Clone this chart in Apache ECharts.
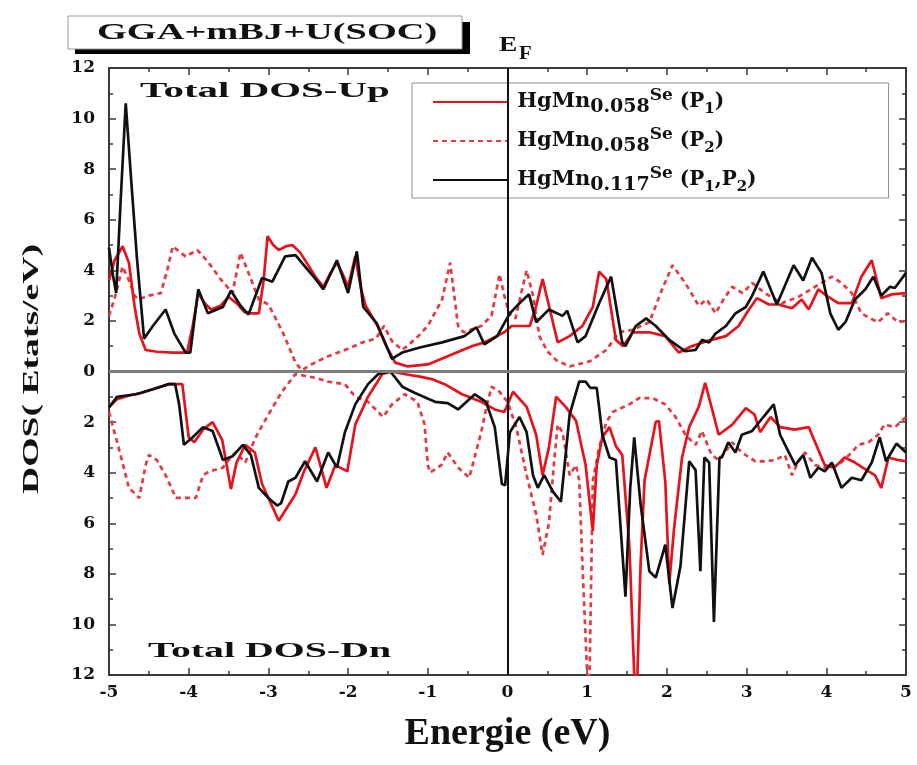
<!DOCTYPE html>
<html>
<head>
<meta charset="utf-8">
<title>Total DOS HgMnSe</title>
<script src="https://cdn.jsdelivr.net/npm/echarts@6/dist/echarts.min.js"></script>
<style>
  html, body { margin: 0; padding: 0; background: #ffffff; }
  #chart { width: 917px; height: 765px; }
</style>
</head>
<body>
<div id="chart"></div>
<script>
// Total density of states, spin up (positive) and spin down (plotted downward).
// Each list holds [energy (eV), DOS (states/eV)] pairs.

const seriesNames = ['HgMn0.058Se (P1)', 'HgMn0.058Se (P2)', 'HgMn0.117Se (P1,P2)'];

const upP1 = [
  [-5.0, 3.6], [-4.93, 4.4], [-4.83, 4.95], [-4.75, 4.3], [-4.68, 2.6], [-4.62, 1.5], [-4.54, 0.85],
  [-4.4, 0.78], [-4.2, 0.75], [-4.02, 0.75], [-3.95, 1.8], [-3.88, 3.1], [-3.8, 2.7], [-3.72, 2.45],
  [-3.6, 2.6], [-3.5, 2.95], [-3.4, 2.7], [-3.3, 2.35], [-3.2, 2.3], [-3.12, 2.3], [-3.06, 3.6],
  [-3.01, 5.35], [-2.94, 5.0], [-2.87, 4.8], [-2.78, 4.95], [-2.7, 5.0], [-2.6, 4.7], [-2.5, 4.2],
  [-2.4, 3.7], [-2.31, 3.35], [-2.22, 3.9], [-2.14, 4.3], [-2.06, 3.8], [-2.0, 3.35], [-1.91, 4.55],
  [-1.84, 3.3], [-1.78, 2.6], [-1.63, 1.8], [-1.52, 1.0], [-1.41, 0.35], [-1.25, 0.2], [-1.0, 0.28],
  [-0.75, 0.6], [-0.45, 1.0], [-0.29, 1.15], [-0.04, 1.55], [0.05, 1.8], [0.15, 1.8], [0.28, 1.8],
  [0.36, 2.6], [0.44, 3.65], [0.52, 2.6], [0.63, 1.15], [0.78, 1.4], [0.94, 1.8], [1.07, 2.55],
  [1.15, 3.95], [1.24, 3.65], [1.36, 1.25], [1.45, 1.0], [1.57, 1.55], [1.78, 1.55], [1.98, 1.4],
  [2.15, 0.75], [2.31, 1.0], [2.5, 1.2], [2.74, 1.4], [2.9, 1.8], [3.03, 2.45], [3.13, 2.9],
  [3.28, 2.65], [3.4, 2.65], [3.57, 2.5], [3.69, 2.85], [3.78, 2.45], [3.9, 3.25], [4.0, 3.0],
  [4.15, 2.7], [4.32, 2.7], [4.44, 3.75], [4.57, 4.4], [4.69, 2.9], [4.82, 3.05], [5.0, 3.1]
];

const upP2 = [
  [-5.0, 2.2], [-4.92, 3.0], [-4.83, 4.15], [-4.75, 3.6], [-4.68, 3.0], [-4.63, 2.85], [-4.5, 3.0],
  [-4.35, 3.1], [-4.27, 4.0], [-4.2, 4.95], [-4.04, 4.55], [-3.89, 4.8], [-3.75, 4.3], [-3.6, 3.65],
  [-3.45, 3.1], [-3.35, 4.7], [-3.25, 3.9], [-3.12, 2.85], [-3.0, 2.65], [-2.82, 1.55], [-2.66, 0.35],
  [-2.58, 0.05], [-2.45, 0.3], [-2.25, 0.6], [-2.0, 0.9], [-1.82, 1.15], [-1.65, 1.3], [-1.55, 1.8],
  [-1.45, 1.2], [-1.32, 0.85], [-1.15, 1.3], [-1.0, 1.8], [-0.82, 2.85], [-0.72, 4.3], [-0.62, 1.8],
  [-0.55, 1.55], [-0.33, 1.8], [-0.2, 2.2], [-0.1, 3.85], [-0.04, 3.0], [0.02, 2.3], [0.1, 2.1],
  [0.18, 3.2], [0.24, 4.0], [0.32, 3.0], [0.4, 1.4], [0.5, 0.8], [0.61, 0.45], [0.78, 0.2],
  [1.03, 0.4], [1.24, 0.85], [1.4, 1.55], [1.57, 1.65], [1.78, 1.95], [1.94, 3.25], [2.07, 4.2],
  [2.23, 3.5], [2.4, 2.6], [2.5, 2.85], [2.61, 2.3], [2.72, 2.9], [2.82, 3.35], [2.95, 3.1],
  [3.07, 3.5], [3.23, 3.1], [3.44, 2.7], [3.65, 2.95], [3.86, 3.35], [4.07, 3.75], [4.19, 3.5],
  [4.32, 3.1], [4.44, 2.3], [4.55, 2.1], [4.65, 1.95], [4.77, 2.3], [4.9, 1.95], [5.0, 2.0]
];

const upP12 = [
  [-5.0, 4.9], [-4.95, 3.8], [-4.91, 3.1], [-4.85, 7.0], [-4.79, 10.6], [-4.72, 7.5], [-4.65, 4.5],
  [-4.56, 1.3], [-4.45, 1.8], [-4.29, 2.45], [-4.18, 1.5], [-4.04, 0.75], [-3.98, 0.75], [-3.88, 3.25],
  [-3.76, 2.3], [-3.57, 2.55], [-3.47, 3.2], [-3.35, 2.6], [-3.25, 2.25], [-3.08, 3.7], [-2.95, 3.55],
  [-2.79, 4.55], [-2.66, 4.6], [-2.54, 4.15], [-2.42, 3.7], [-2.31, 3.25], [-2.14, 4.4], [-2.0, 3.1],
  [-1.89, 4.75], [-1.81, 2.55], [-1.64, 1.9], [-1.45, 0.5], [-1.4, 0.6], [-1.32, 0.75], [-1.1, 0.95],
  [-0.82, 1.15], [-0.54, 1.4], [-0.39, 1.75], [-0.29, 1.07], [-0.13, 1.4], [-0.05, 1.85], [0.03, 2.3],
  [0.15, 2.7], [0.27, 3.05], [0.36, 1.95], [0.52, 2.45], [0.69, 2.2], [0.75, 2.4], [0.88, 1.15],
  [0.98, 1.4], [1.15, 2.7], [1.3, 3.75], [1.44, 1.15], [1.48, 1.0], [1.61, 1.8], [1.74, 2.1],
  [1.86, 1.8], [2.03, 1.25], [2.23, 0.8], [2.36, 0.85], [2.44, 1.25], [2.53, 1.15], [2.61, 1.5],
  [2.74, 1.8], [2.86, 2.3], [2.99, 2.55], [3.07, 3.0], [3.21, 3.95], [3.38, 2.65], [3.59, 4.2],
  [3.71, 3.6], [3.82, 4.5], [3.94, 3.9], [4.05, 2.3], [4.15, 1.65], [4.24, 1.95], [4.36, 2.85],
  [4.49, 3.25], [4.59, 3.75], [4.69, 3.0], [4.8, 3.35], [4.86, 3.3], [5.0, 3.9]
];

const dnP1 = [
  [-5.0, 1.4], [-4.9, 1.1], [-4.75, 0.95], [-4.6, 0.85], [-4.45, 0.7], [-4.25, 0.5], [-4.08, 0.5],
  [-4.0, 2.6], [-3.93, 2.8], [-3.82, 2.3], [-3.7, 2.0], [-3.58, 2.7], [-3.47, 4.65], [-3.4, 3.6],
  [-3.29, 2.9], [-3.17, 3.2], [-3.08, 4.45], [-2.87, 5.9], [-2.66, 4.85], [-2.56, 4.0], [-2.41, 3.0],
  [-2.27, 4.6], [-2.16, 3.7], [-2.01, 3.95], [-1.91, 2.1], [-1.75, 1.0], [-1.57, 0.1], [-1.45, 0.0],
  [-1.3, 0.1], [-1.1, 0.2], [-0.95, 0.3], [-0.79, 0.5], [-0.57, 0.9], [-0.33, 1.2], [-0.16, 1.5],
  [-0.04, 1.6], [0.07, 0.8], [0.24, 1.4], [0.36, 2.5], [0.44, 4.1], [0.52, 3.0], [0.61, 1.0],
  [0.73, 1.4], [0.86, 1.95], [0.98, 3.7], [1.07, 6.3], [1.12, 3.7], [1.19, 2.6], [1.28, 2.2],
  [1.36, 2.95], [1.44, 3.3], [1.53, 6.95], [1.59, 12], [1.63, 12], [1.67, 7.6], [1.72, 4.3],
  [1.86, 2.0], [1.9, 1.95], [1.98, 4.35], [2.03, 8.4], [2.09, 6.2], [2.19, 3.4], [2.28, 2.2],
  [2.4, 1.4], [2.48, 0.45], [2.65, 2.5], [2.82, 2.1], [2.99, 1.45], [3.1, 1.7], [3.17, 2.4],
  [3.3, 1.8], [3.42, 2.2], [3.6, 2.3], [3.78, 2.2], [3.98, 3.7], [4.1, 3.8], [4.23, 3.4],
  [4.36, 3.6], [4.53, 3.95], [4.61, 4.1], [4.69, 4.6], [4.78, 3.4], [4.9, 3.5], [5.0, 3.55]
];

const dnP2 = [
  [-5.0, 1.6], [-4.88, 3.0], [-4.75, 4.6], [-4.62, 5.0], [-4.54, 3.7], [-4.5, 3.3], [-4.4, 3.5],
  [-4.29, 4.1], [-4.16, 5.0], [-4.04, 5.0], [-3.91, 5.0], [-3.82, 4.1], [-3.74, 3.95], [-3.57, 3.8],
  [-3.5, 3.5], [-3.41, 3.2], [-3.29, 3.6], [-3.16, 2.6], [-3.0, 1.7], [-2.83, 0.8], [-2.66, 0.1],
  [-2.41, 0.25], [-2.25, 0.4], [-2.04, 0.5], [-1.91, 1.0], [-1.75, 1.2], [-1.56, 1.8], [-1.45, 1.3],
  [-1.29, 0.9], [-1.13, 1.2], [-1.04, 2.1], [-1.0, 3.7], [-0.97, 4.0], [-0.83, 3.7], [-0.75, 3.2],
  [-0.62, 3.8], [-0.48, 4.2], [-0.43, 3.6], [-0.33, 2.4], [-0.27, 1.5], [-0.2, 0.6], [-0.1, 0.8],
  [0.0, 1.2], [0.11, 2.2], [0.24, 4.1], [0.36, 5.65], [0.44, 7.25], [0.52, 6.0], [0.59, 3.4],
  [0.63, 2.1], [0.69, 2.4], [0.78, 4.1], [0.86, 3.7], [0.9, 4.3], [0.94, 7.6], [1.0, 12],
  [1.03, 12], [1.07, 4.35], [1.15, 3.0], [1.24, 2.0], [1.32, 1.6], [1.53, 1.3], [1.65, 1.05],
  [1.82, 1.05], [1.98, 1.3], [2.11, 1.8], [2.23, 2.5], [2.36, 2.9], [2.44, 2.35], [2.56, 3.3],
  [2.65, 3.5], [2.82, 2.8], [2.94, 3.2], [3.11, 3.55], [3.23, 3.55], [3.36, 3.5], [3.48, 3.3],
  [3.57, 4.1], [3.65, 3.55], [3.73, 3.2], [3.86, 3.7], [3.98, 3.8], [4.15, 3.7], [4.32, 3.2],
  [4.4, 2.9], [4.53, 2.8], [4.65, 2.5], [4.73, 2.1], [4.86, 2.2], [5.0, 1.8]
];

const dnP12 = [
  [-5.0, 1.42], [-4.9, 1.0], [-4.66, 0.9], [-4.45, 0.7], [-4.25, 0.5], [-4.17, 0.5], [-4.12, 1.3],
  [-4.06, 2.9], [-3.95, 2.6], [-3.82, 2.2], [-3.7, 2.35], [-3.57, 3.5], [-3.45, 3.35], [-3.32, 2.9],
  [-3.22, 3.3], [-3.12, 4.6], [-3.0, 5.0], [-2.89, 5.3], [-2.84, 5.2], [-2.75, 4.35], [-2.66, 4.2],
  [-2.54, 3.55], [-2.39, 4.35], [-2.25, 3.2], [-2.14, 3.8], [-2.04, 2.4], [-1.91, 1.3], [-1.75, 0.5],
  [-1.62, 0.1], [-1.47, 0.0], [-1.32, 0.6], [-1.16, 0.85], [-0.91, 1.2], [-0.75, 1.25], [-0.62, 1.5],
  [-0.41, 0.9], [-0.27, 1.2], [-0.16, 2.2], [-0.07, 4.45], [-0.03, 4.5], [0.03, 2.4], [0.15, 1.8],
  [0.24, 2.4], [0.32, 4.1], [0.38, 4.6], [0.46, 4.1], [0.57, 4.75], [0.67, 5.15], [0.78, 1.7],
  [0.9, 0.4], [0.98, 0.4], [1.04, 0.65], [1.12, 0.65], [1.19, 2.5], [1.28, 3.4], [1.36, 3.5],
  [1.48, 8.9], [1.54, 4.6], [1.59, 2.6], [1.67, 5.25], [1.78, 7.9], [1.86, 8.15], [1.98, 6.85],
  [2.07, 9.35], [2.17, 7.7], [2.28, 3.55], [2.36, 3.9], [2.42, 7.9], [2.47, 3.4], [2.53, 3.6],
  [2.59, 9.9], [2.66, 3.4], [2.69, 3.4], [2.77, 2.8], [2.86, 3.2], [2.94, 2.5], [3.07, 2.35],
  [3.21, 1.8], [3.34, 1.3], [3.42, 2.5], [3.53, 3.2], [3.61, 3.7], [3.71, 3.3], [3.8, 4.2],
  [3.9, 3.8], [3.98, 3.95], [4.07, 3.6], [4.19, 4.6], [4.32, 4.2], [4.44, 4.3], [4.57, 3.6],
  [4.67, 2.6], [4.75, 3.55], [4.88, 2.85], [5.0, 3.2]
];

const TIMES = '"Liberation Serif", "Times New Roman", serif';
const WIDE = '"DejaVu Serif", "Liberation Serif", serif';
const RED = '#e8121c';
const RED_DASH = '#e43a42';
const BLACK = '#111111';
const FRAME = '#3a3a3a';

function dosSeries(name, points, sign, color, dash, z) {
  return {
    name: name,
    type: 'line',
    symbol: 'none',
    smooth: false,
    z: z,
    animation: false,
    data: points.map(p => [p[0], sign * p[1]]),
    lineStyle: { color: color, width: 2.7, type: dash },
    itemStyle: { color: color },
    emphasis: { disabled: true }
  };
}

const series = [
  dosSeries(seriesNames[1], upP2, 1, RED_DASH, [5, 4], 2),
  dosSeries(seriesNames[1], dnP2, -1, RED_DASH, [5, 4], 2),
  dosSeries(seriesNames[0], upP1, 1, RED, 'solid', 3),
  dosSeries(seriesNames[0], dnP1, -1, RED, 'solid', 3),
  dosSeries(seriesNames[2], upP12, 1, BLACK, 'solid', 4),
  dosSeries(seriesNames[2], dnP12, -1, BLACK, 'solid', 4)
];

// Fermi level and the spin-up / spin-down divider
series[0].markLine = {
  silent: true,
  symbol: 'none',
  animation: false,
  label: { show: false },
  data: [
    { xAxis: 0, lineStyle: { color: '#111111', width: 2, type: 'solid' } },
    { yAxis: 0, lineStyle: { color: '#7d7d7d', width: 3, type: 'solid' } }
  ]
};

const legendText = {};
legendText[seriesNames[0]] = '{sp| }{h|HgMn}{d|0.058}{s|Se}{p| (P}{i|1}{p|)}';
legendText[seriesNames[1]] = '{sp| }{h|HgMn}{d|0.058}{s|Se}{p| (P}{i|2}{p|)}';
legendText[seriesNames[2]] = '{sp| }{h|HgMn}{d|0.117}{s|Se}{p| (P}{i|1}{p|,P}{i|2}{p|)}';

const richBase = { fontFamily: WIDE, fontWeight: 'bold', color: '#111111' };

const tickLine = { color: FRAME, width: 1.5 };

function xAxisDef(pos, withLabels) {
  return {
    type: 'value', min: -5, max: 5, interval: 1, position: pos,
    axisLine: { show: true, onZero: false, lineStyle: { color: FRAME, width: 2 } },
    axisTick: { show: true, inside: true, length: 7, lineStyle: tickLine },
    minorTick: { show: true, splitNumber: 2, length: 4, lineStyle: tickLine },
    splitLine: { show: false },
    minorSplitLine: { show: false },
    axisLabel: withLabels ? {
      fontFamily: WIDE, fontWeight: 'bold', fontSize: 17, color: '#111111', margin: 9
    } : { show: false }
  };
}

function yAxisDef(pos, withLabels) {
  return {
    type: 'value', min: -12, max: 12, interval: 2, position: pos,
    axisLine: { show: true, onZero: false, lineStyle: { color: FRAME, width: 2 } },
    axisTick: { show: true, inside: true, length: 7, lineStyle: tickLine },
    minorTick: { show: true, splitNumber: 2, length: 4, lineStyle: tickLine },
    splitLine: { show: false },
    minorSplitLine: { show: false },
    axisLabel: withLabels ? {
      fontFamily: WIDE, fontWeight: 'bold', fontSize: 17, color: '#111111', margin: 14,
      formatter: v => String(Math.abs(v))
    } : { show: false }
  };
}

const xBottom = xAxisDef('bottom', true);
xBottom.name = 'Energie (eV)';
xBottom.nameLocation = 'middle';
xBottom.nameGap = 40;
xBottom.nameTextStyle = { fontFamily: TIMES, fontWeight: 'bold', fontSize: 38, color: '#111111' };

const chart = echarts.init(document.getElementById('chart'), null, { renderer: 'canvas' });

chart.setOption({
  backgroundColor: '#ffffff',
  animation: false,
  grid: { left: 109, right: 11, top: 68, bottom: 90, containLabel: false },
  xAxis: [xBottom, xAxisDef('top', false)],
  yAxis: [yAxisDef('left', true), yAxisDef('right', false)],
  legend: {
    data: seriesNames,
    orient: 'vertical',
    left: 412,
    top: 83,
    itemWidth: 76,
    itemHeight: 14,
    itemGap: 9,
    padding: [4, 132, 3, 20],
    backgroundColor: '#ffffff',
    borderColor: '#8c8c8c',
    borderWidth: 1,
    borderRadius: 0,
    selectedMode: false,
    itemStyle: { opacity: 0 },
    formatter: name => legendText[name],
    textStyle: {
      rich: {
        sp: Object.assign({ fontSize: 9, lineHeight: 30 }, richBase),
        h: Object.assign({ fontSize: 21, lineHeight: 30, verticalAlign: 'middle' }, richBase),
        d: Object.assign({ fontSize: 19, lineHeight: 12, verticalAlign: 'bottom' }, richBase),
        s: Object.assign({ fontSize: 17, lineHeight: 26, verticalAlign: 'top' }, richBase),
        p: Object.assign({ fontSize: 20, lineHeight: 30, verticalAlign: 'middle' }, richBase),
        i: Object.assign({ fontSize: 15, lineHeight: 12, verticalAlign: 'bottom' }, richBase)
      }
    }
  },
  graphic: [
    { type: 'rect', silent: true, z: 10, shape: { x: 75, y: 22, width: 395, height: 32 }, style: { fill: '#000000' } },
    { type: 'rect', silent: true, z: 11, shape: { x: 68, y: 16, width: 394, height: 33 },
      style: { fill: '#ffffff', stroke: '#9a9a9a', lineWidth: 1 } },
    { type: 'text', silent: true, z: 12, x: 97, y: 33, scaleX: 1.6,
      style: { text: 'GGA+mBJ+U(SOC)', font: 'bold 24px ' + TIMES, fill: '#111111',
               align: 'left', verticalAlign: 'middle', textAlign: 'left', textVerticalAlign: 'middle' } },
    { type: 'text', silent: true, z: 12, x: 499, y: 45, scaleX: 1.25,
      style: { text: 'E', font: 'bold 22px ' + TIMES, fill: '#111111',
               align: 'left', verticalAlign: 'middle', textAlign: 'left', textVerticalAlign: 'middle' } },
    { type: 'text', silent: true, z: 12, x: 519, y: 54, scaleX: 1.1,
      style: { text: 'F', font: 'bold 19px ' + TIMES, fill: '#111111',
               align: 'left', verticalAlign: 'middle', textAlign: 'left', textVerticalAlign: 'middle' } },
    { type: 'text', silent: true, z: 12, x: 140, y: 91, scaleX: 1.86,
      style: { text: 'Total DOS-Up', font: 'bold 22px ' + TIMES, fill: '#111111',
               align: 'left', verticalAlign: 'middle', textAlign: 'left', textVerticalAlign: 'middle' } },
    { type: 'text', silent: true, z: 12, x: 148, y: 651, scaleX: 1.81,
      style: { text: 'Total DOS-Dn', font: 'bold 22px ' + TIMES, fill: '#111111',
               align: 'left', verticalAlign: 'middle', textAlign: 'left', textVerticalAlign: 'middle' } },
    { type: 'text', silent: true, z: 12, x: 32, y: 369, rotation: Math.PI / 2, scaleX: 1.57,
      style: { text: 'DOS( Etats/eV)', font: 'bold 24px ' + TIMES, fill: '#111111',
               align: 'center', verticalAlign: 'middle', textAlign: 'center', textVerticalAlign: 'middle' } }
  ],
  series: series
});
</script>
</body>
</html>
